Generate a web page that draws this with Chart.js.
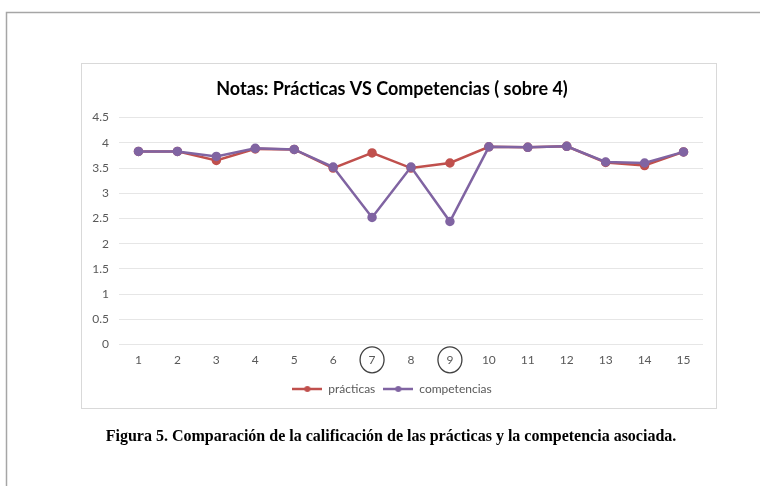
<!DOCTYPE html>
<html>
<head>
<meta charset="utf-8">
<script src="https://cdn.jsdelivr.net/npm/chart.js@4"></script>
<style>
  html, body { margin: 0; padding: 0; background: #fff; }
  #wrap { width: 760px; height: 486px; position: relative; }
</style>
</head>
<body>
<div id="wrap"><canvas id="notasChart" width="760" height="486"></canvas></div>
<script>
const labels = ['1', '2', '3', '4', '5', '6', '7', '8', '9', '10', '11', '12', '13', '14', '15'];
const practicas = [3.83, 3.83, 3.65, 3.88, 3.87, 3.5, 3.8, 3.5, 3.6, 3.92, 3.91, 3.93, 3.61, 3.55, 3.82];
const competencias = [3.83, 3.83, 3.73, 3.89, 3.87, 3.52, 2.52, 3.52, 2.44, 3.92, 3.91, 3.93, 3.62, 3.6, 3.82];
const circled = ['7', '9'];
const caption = 'Figura 5. Comparación de la calificación de las prácticas y la competencia asociada.';

const RED = '#c0504d';
const PURPLE = '#8064a2';
const FONT = 'Lato, "Open Sans", sans-serif';
const TICK_PAD = 8;
const TICK_SIZE = 12;

// small line+dot icon for the legend, like the spreadsheet style
function legendIcon(color) {
    const c = document.createElement('canvas');
    c.width = 30; c.height = 10;
    const g = c.getContext('2d');
    g.strokeStyle = color; g.lineWidth = 2.5;
    g.beginPath(); g.moveTo(0, 5); g.lineTo(30, 5); g.stroke();
    g.fillStyle = color;
    g.beginPath(); g.arc(15, 5, 3, 0, Math.PI * 2); g.fill();
    return c;
}

// page frame, chart box, circled labels and caption
const decor = {
    id: 'decor',
    beforeDraw(chart) {
        const ctx = chart.ctx;
        ctx.save();
        ctx.fillStyle = '#fff';
        ctx.fillRect(0, 0, chart.width, chart.height);
        ctx.strokeStyle = '#a6a6a6';
        ctx.lineWidth = 1.5;
        ctx.beginPath();
        ctx.moveTo(6.5, 486); ctx.lineTo(6.5, 12.5); ctx.lineTo(760, 12.5);
        ctx.stroke();
        ctx.strokeStyle = '#d9d9d9';
        ctx.lineWidth = 1;
        ctx.strokeRect(81.5, 63.5, 635, 345);
        ctx.restore();
    },
    afterDraw(chart) {
        const ctx = chart.ctx;
        const x = chart.scales.x;
        const cy = x.top + TICK_PAD + TICK_SIZE * 0.6;
        ctx.save();
        ctx.strokeStyle = '#404040';
        ctx.lineWidth = 1.3;
        circled.forEach(l => {
            const px = x.getPixelForValue(labels.indexOf(l));
            ctx.beginPath();
            ctx.ellipse(px, cy, 12, 13, 0, 0, Math.PI * 2);
            ctx.stroke();
        });
        ctx.fillStyle = '#000';
        ctx.font = 'bold 16px "Liberation Serif", "Times New Roman", serif';
        ctx.textAlign = 'center';
        ctx.textBaseline = 'middle';
        ctx.fillText(caption, 391, 437);
        ctx.restore();
    }
};

const ctx = document.getElementById('notasChart').getContext('2d');

const notasChart = new Chart(ctx, {
    type: 'line',
    data: {
        labels: labels,
        datasets: [{
            label: 'prácticas',
            data: practicas,
            borderColor: RED,
            backgroundColor: RED,
            borderWidth: 2.5,
            pointRadius: 3.5,
            pointHoverRadius: 3.5,
            order: 2
        }, {
            label: 'competencias',
            data: competencias,
            borderColor: PURPLE,
            backgroundColor: PURPLE,
            borderWidth: 2.5,
            pointRadius: 3.5,
            pointHoverRadius: 3.5,
            order: 1
        }]
    },
    options: {
        responsive: false,
        animation: false,
        layout: { padding: { left: 81, right: 57, top: 63, bottom: 81 } },
        plugins: {
            title: {
                display: true,
                text: 'Notas: Prácticas VS Competencias ( sobre 4)',
                color: '#000',
                font: { family: FONT, size: 18, weight: 'bold' },
                padding: { top: 15, bottom: 18 }
            },
            legend: {
                position: 'bottom',
                labels: {
                    color: '#595959',
                    font: { family: FONT, size: 12 },
                    usePointStyle: true,
                    boxHeight: 10,
                    pointStyleWidth: 30,
                    padding: 8,
                    generateLabels(chart) {
                        return chart.data.datasets.map((d, i) => ({
                            text: d.label,
                            pointStyle: legendIcon(d.borderColor),
                            fontColor: '#595959',
                            lineWidth: 0,
                            strokeStyle: 'transparent',
                            fillStyle: 'transparent',
                            datasetIndex: i
                        }));
                    }
                }
            },
            tooltip: { enabled: false }
        },
        scales: {
            x: {
                offset: true,
                grid: { display: false, drawTicks: false },
                border: { display: false },
                ticks: { color: '#595959', font: { family: FONT, size: TICK_SIZE }, padding: TICK_PAD }
            },
            y: {
                min: 0,
                max: 4.5,
                ticks: {
                    stepSize: 0.5,
                    color: '#595959',
                    font: { family: FONT, size: TICK_SIZE },
                    padding: 10,
                    callback: v => String(v)
                },
                grid: { color: '#e6e6e6', drawTicks: false },
                border: { display: false },
                afterFit(s) { s.width = 38; }
            }
        }
    },
    plugins: [decor]
});
</script>
</body>
</html>
